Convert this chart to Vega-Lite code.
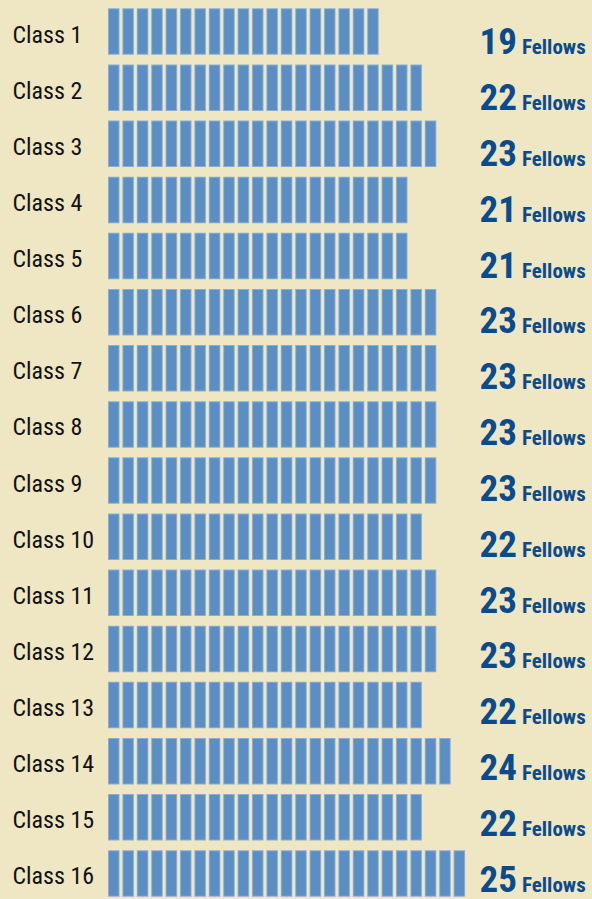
{
  "$schema": "https://vega.github.io/schema/vega-lite/v6.json",
  "width": 484,
  "height": 899,
  "autosize": "none",
  "padding": {"left": 108, "top": 0, "right": 0, "bottom": 0},
  "background": "#efe6c4",
  "config": {"view": {"stroke": null}},
  "data": {
    "values": [
      {"class": "Class 1", "n": 19},
      {"class": "Class 2", "n": 22},
      {"class": "Class 3", "n": 23},
      {"class": "Class 4", "n": 21},
      {"class": "Class 5", "n": 21},
      {"class": "Class 6", "n": 23},
      {"class": "Class 7", "n": 23},
      {"class": "Class 8", "n": 23},
      {"class": "Class 9", "n": 23},
      {"class": "Class 10", "n": 22},
      {"class": "Class 11", "n": 23},
      {"class": "Class 12", "n": 23},
      {"class": "Class 13", "n": 22},
      {"class": "Class 14", "n": 24},
      {"class": "Class 15", "n": 22},
      {"class": "Class 16", "n": 25}
    ]
  },
  "resolve": {"scale": {"y": "independent"}},
  "layer": [
    {
      "mark": {"type": "rule", "stroke": "#88aed6", "strokeWidth": 46.5, "strokeDash": [11.5, 2.9], "strokeDashOffset": 11.5, "strokeCap": "butt"},
      "encoding": {
        "y": {
          "field": "class",
          "type": "nominal",
          "sort": null,
          "scale": {"type": "point", "range": [31.5, 873.4], "padding": 0},
          "axis": {
            "title": null,
            "domain": false,
            "ticks": false,
            "labelAlign": "left",
            "labelPadding": 96,
            "labelBaseline": "alphabetic",
            "labelOffset": 10.5,
            "labelFont": "Roboto Condensed, Roboto, sans-serif",
            "labelFontSize": 24,
            "labelColor": "#111111"
          }
        },
        "x": {"field": "n", "type": "quantitative", "scale": {"domain": [0, 33.6111], "nice": false, "zero": true}, "axis": null},
        "x2": {"datum": 0}
      }
    },
    {
      "mark": {"type": "rule", "stroke": "#5a8ec4", "strokeWidth": 44.5, "strokeDash": [9.5, 4.9], "strokeDashOffset": 10.5, "strokeCap": "butt"},
      "encoding": {
        "y": {
          "field": "class",
          "type": "nominal",
          "sort": null,
          "scale": {"type": "point", "range": [31.5, 873.4], "padding": 0},
          "axis": null
        },
        "x": {"field": "n", "type": "quantitative", "scale": {"domain": [0, 33.6111], "nice": false, "zero": true}},
        "x2": {"datum": 0}
      }
    },
    {
      "mark": {"type": "text", "align": "right", "baseline": "alphabetic", "font": "Roboto Condensed, Roboto, sans-serif", "fontSize": 37, "fontWeight": "bold", "color": "#0b4b8b"},
      "encoding": {
        "y": {
          "field": "class",
          "type": "nominal",
          "sort": null,
          "scale": {"type": "point", "range": [54.3, 891.7], "padding": 0},
          "axis": null
        },
        "x": {"datum": 28.4, "type": "quantitative", "scale": {"domain": [0, 33.6111], "nice": false, "zero": true}},
        "text": {"field": "n", "type": "quantitative"}
      }
    },
    {
      "mark": {"type": "text", "align": "left", "baseline": "alphabetic", "font": "Roboto Condensed, Roboto, sans-serif", "fontSize": 21, "fontWeight": "bold", "color": "#0b4b8b"},
      "encoding": {
        "y": {
          "field": "class",
          "type": "nominal",
          "sort": null,
          "scale": {"type": "point", "range": [54.3, 891.7], "padding": 0},
          "axis": null
        },
        "x": {"datum": 28.75, "type": "quantitative", "scale": {"domain": [0, 33.6111], "nice": false, "zero": true}},
        "text": {"value": "Fellows"}
      }
    }
  ]
}
